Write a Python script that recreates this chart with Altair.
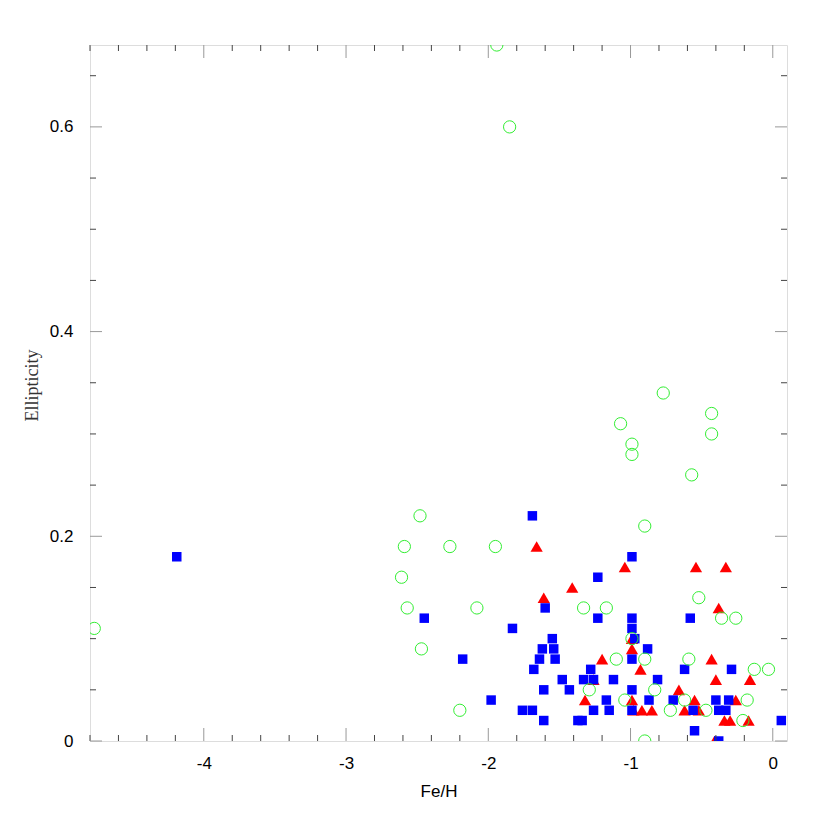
import altair as alt
import pandas as pd

# Blue squares
blue_x = [-4.19, -2.45, -2.18, -1.98, -1.83, -1.76, -1.69, -1.69, -1.68, -1.64, -1.62, -1.60,
          -1.61, -1.61, -1.55, -1.54, -1.53, -1.48, -1.43, -1.37, -1.34, -1.33, -1.28, -1.26,
          -1.26, -1.23, -1.23, -1.17, -1.15, -1.12, -0.99, -0.99, -0.99, -0.97, -0.99, -0.99,
          -0.99, -0.88, -0.87, -0.81, -0.70, -0.62, -0.58, -0.56, -0.55, -0.40, -0.38, -0.33,
          -0.31, -0.29, -0.38, 0.06]
blue_y = [0.18, 0.12, 0.08, 0.04, 0.11, 0.03, 0.22, 0.03, 0.07, 0.08, 0.09, 0.13,
          0.05, 0.02, 0.10, 0.09, 0.08, 0.06, 0.05, 0.02, 0.02, 0.06, 0.07, 0.06,
          0.03, 0.16, 0.12, 0.04, 0.03, 0.06, 0.18, 0.12, 0.11, 0.10, 0.08, 0.05,
          0.03, 0.09, 0.04, 0.06, 0.04, 0.07, 0.12, 0.03, 0.01, 0.04, 0.03, 0.03,
          0.04, 0.07, 0.00, 0.02]

# Red triangles
red_x = [-1.66, -1.41, -1.61, -1.26, -1.32, -1.04, -0.54, -0.33, -0.38, -0.99, -0.99, -1.20,
         -0.43, -0.93, -0.40, -0.16, -0.66, -0.99, -0.55, -0.26, -0.98, -0.92, -0.85, -0.62,
         -0.52, -0.34, -0.30, -0.17, -0.41]
red_y = [0.19, 0.15, 0.14, 0.06, 0.04, 0.17, 0.17, 0.17, 0.13, 0.10, 0.09, 0.08,
         0.08, 0.07, 0.06, 0.06, 0.05, 0.04, 0.04, 0.04, 0.03, 0.03, 0.03, 0.03,
         0.03, 0.02, 0.02, 0.02, 0.00]

# Green open circles
green_x = [-4.77, -2.48, -2.59, -2.27, -1.95, -2.61, -2.57, -2.08, -1.33, -1.17, -2.47, -2.20,
           -1.29, -1.94, -1.85, -0.77, -0.43, -1.07, -0.43, -0.99, -0.99, -0.57, -0.90, -0.52,
           -0.36, -0.26, -0.99, -1.10, -0.90, -0.59, -0.13, -0.03, -0.83, -1.04, -0.62, -0.18,
           -0.72, -0.47, -0.21, -0.90]
green_y = [0.11, 0.22, 0.19, 0.19, 0.19, 0.16, 0.13, 0.13, 0.13, 0.13, 0.09, 0.03,
           0.05, 0.68, 0.60, 0.34, 0.32, 0.31, 0.30, 0.29, 0.28, 0.26, 0.21, 0.14,
           0.12, 0.12, 0.10, 0.08, 0.08, 0.08, 0.07, 0.07, 0.05, 0.04, 0.04, 0.04,
           0.03, 0.03, 0.02, 0.00]

x_labels = [-4, -3, -2, -1, 0]
y_labels = [0, 0.2, 0.4, 0.6]
x_major = [-4, -3, -2, -1, 0]
x_minor = [round(-4.8 + 0.2 * i, 2) for i in range(25)]
x_minor = [v for v in x_minor if abs(v - round(v)) > 1e-6]
y_major = [0, 0.2, 0.4, 0.6]
y_minor = [round(0.05 * i, 2) for i in range(14)]
y_minor = [v for v in y_minor if abs(v * 5 - round(v * 5)) > 1e-6]

W, H = 697, 696
XDOM = [-4.8, 0.1]
YDOM = [0, 0.68]

xs = alt.Scale(domain=XDOM, nice=False, zero=False)
ys = alt.Scale(domain=YDOM, nice=False, zero=False)

blue = pd.DataFrame({"x": blue_x, "y": blue_y})
red = pd.DataFrame({"x": red_x, "y": red_y})
green = pd.DataFrame({"x": green_x, "y": green_y})

xaxis = alt.Axis(values=x_labels, title="Fe/H", labelExpr="'' + datum.value")
yaxis = alt.Axis(values=y_labels, title="Ellipticity", titleY=340,
                 labelExpr="datum.value == 0 ? '0' : format(datum.value, '.1f')")


def X(field):
    return alt.X(field, type="quantitative", scale=xs, axis=xaxis)


def Y(field):
    return alt.Y(field, type="quantitative", scale=ys, axis=yaxis)


base_red = alt.Chart(red).mark_point(shape="triangle-up", filled=True, color="#ff0000",
                                     size=150, opacity=1, clip=True).encode(x=X("x"), y=Y("y"))
base_blue = alt.Chart(blue).mark_point(shape="square", filled=True, color="#0000ff",
                                       size=90, opacity=1, clip=True).encode(x=X("x"), y=Y("y"))
base_green = alt.Chart(green).mark_point(shape="circle", filled=False, color="#33ee33",
                                         size=150, strokeWidth=1, opacity=1,
                                         clip=True).encode(x=X("x"), y=Y("y"))


def xticks(vals, length, color):
    df = pd.DataFrame({"v": vals})
    bottom = alt.Chart(df).mark_rule(color=color, strokeWidth=1).encode(
        x=X("v"), y=alt.value(H), y2=alt.value(H - length))
    top = alt.Chart(df).mark_rule(color=color, strokeWidth=1).encode(
        x=X("v"), y=alt.value(0), y2=alt.value(length))
    return [bottom, top]


def yticks(vals, length, color):
    df = pd.DataFrame({"v": vals})
    left = alt.Chart(df).mark_rule(color=color, strokeWidth=1).encode(
        y=Y("v"), x=alt.value(0), x2=alt.value(length))
    right = alt.Chart(df).mark_rule(color=color, strokeWidth=1).encode(
        y=Y("v"), x=alt.value(W), x2=alt.value(W - length))
    return [left, right]


tick_layers = (xticks(x_minor, 6, "#444444") + xticks(x_major, 13, "#999999")
               + yticks(y_minor, 6, "#444444") + yticks(y_major, 12, "#999999"))

chart = alt.layer(base_red, base_blue, base_green, *tick_layers).properties(
    width=W, height=H,
    autosize=alt.AutoSizeParams(type="none"),
    padding={"left": 82, "top": 37, "right": 20, "bottom": 80},
).configure_view(stroke="#666666", strokeWidth=1).configure(
    background="white"
).configure_axis(
    ticks=False, domain=False, grid=False,
    labelFontSize=17, labelFont="Liberation Sans", labelColor="black",
    titleFontSize=17, titleFontWeight="normal", titleColor="black",
).configure_axisX(
    labelPadding=14, titleFont="Liberation Sans", titlePadding=12
).configure_axisY(
    labelPadding=17, titleFont="Liberation Serif", titleFontSize=18, titlePadding=8,
    titleColor="#333333"
)

chart.save("out.html", embed_options={"renderer": "svg", "actions": False})
